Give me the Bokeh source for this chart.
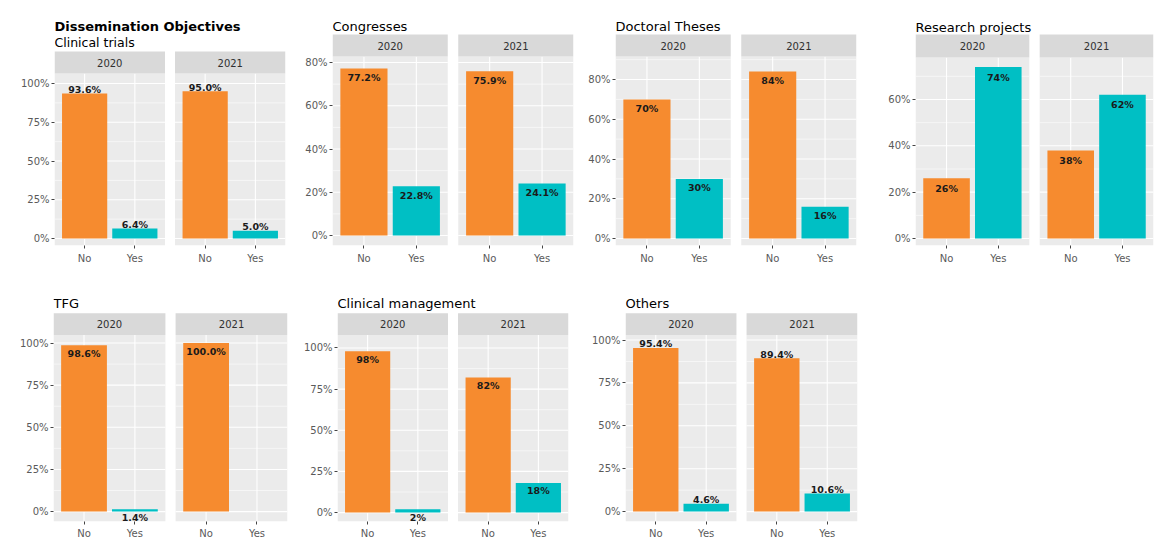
from bokeh.plotting import figure
from bokeh.layouts import row, column
from bokeh.models import FixedTicker, Range1d
from bokeh.core.properties import value
from bokeh.embed import file_html
from bokeh.resources import INLINE

# ---------------- data ----------------
main_title = "Dissemination Objectives"
years = ["2020", "2021"]
answers = ["No", "Yes"]
panel_titles = ["Clinical trials", "Congresses", "Doctoral Theses", "Research projects",
                "TFG", "Clinical management", "Others"]

# order of values in every panel: 2020-No, 2020-Yes, 2021-No, 2021-Yes
clinical_trials = [93.6, 6.4, 95.0, 5.0]
congresses = [77.2, 22.8, 75.9, 24.1]
doctoral_theses = [70, 30, 84, 16]
research_projects = [26, 74, 38, 62]
tfg = [98.6, 1.4, 100.0, 0.0]
clinical_management = [98, 2, 82, 18]
others = [95.4, 4.6, 89.4, 10.6]

clinical_trials_labels = ["93.6%", "6.4%", "95.0%", "5.0%"]
congresses_labels = ["77.2%", "22.8%", "75.9%", "24.1%"]
doctoral_theses_labels = ["70%", "30%", "84%", "16%"]
research_projects_labels = ["26%", "74%", "38%", "62%"]
tfg_labels = ["98.6%", "1.4%", "100.0%", ""]
clinical_management_labels = ["98%", "2%", "82%", "18%"]
others_labels = ["95.4%", "4.6%", "89.4%", "10.6%"]

ticks_100 = [0, 25, 50, 75, 100]
ticks_80 = [0, 20, 40, 60, 80]
ticks_60 = [0, 20, 40, 60]

# ---------------- style / layout ----------------
FONT = "DejaVu Sans"
ORANGE = "#F68B2F"
TEAL = "#00BFC4"
PANEL_BG = "#EBEBEB"
STRIP_BG = "#D9D9D9"
TICK_COLOR = "#5a5a5a"

ROW1 = (0, 10, 245, 270)    # fig top, frame top, frame bottom, fig bottom (page px)
ROW2 = (270, 283, 523, 541)

specs = [
    dict(fig_x=(0, 293), frame_x=(54, 285), rows=ROW1, zero=238, ppp=1.55, strip=(51, 73),
         titles=[(main_title, 26, "13px", "bold"), (panel_titles[0], 42, "12.5px", "normal")],
         vals=clinical_trials, labels=clinical_trials_labels, ticks=ticks_100, dy=-4),
    dict(fig_x=(293, 585), frame_x=(332, 573), rows=ROW1, zero=235, ppp=2.1625, strip=(34, 56),
         titles=[(panel_titles[1], 26, "13px", "normal")],
         vals=congresses, labels=congresses_labels, ticks=ticks_80, dy=9),
    dict(fig_x=(585, 875), frame_x=(615, 856), rows=ROW1, zero=238, ppp=1.9875, strip=(34, 56),
         titles=[(panel_titles[2], 26, "13px", "normal")],
         vals=doctoral_theses, labels=doctoral_theses_labels, ticks=ticks_80, dy=9),
    dict(fig_x=(875, 1158), frame_x=(915, 1153), rows=ROW1, zero=238, ppp=2.317, strip=(34, 57),
         titles=[(panel_titles[3], 27, "13px", "normal")],
         vals=research_projects, labels=research_projects_labels, ticks=ticks_60, dy=10),
    dict(fig_x=(0, 300), frame_x=(53, 287), rows=ROW2, zero=513, ppp=1.70, strip=(313, 335),
         titles=[(panel_titles[4], 303, "13px", "normal")],
         vals=tfg, labels=tfg_labels, ticks=ticks_100, dy=8),
    dict(fig_x=(300, 588), frame_x=(335, 568), rows=ROW2, zero=514, ppp=1.66, strip=(313, 335),
         titles=[(panel_titles[5], 303, "13px", "normal")],
         vals=clinical_management, labels=clinical_management_labels, ticks=ticks_100, dy=8),
    dict(fig_x=(588, 880), frame_x=(623, 857), rows=ROW2, zero=513, ppp=1.73, strip=(313, 335),
         titles=[(panel_titles[6], 303, "13px", "normal")],
         vals=others, labels=others_labels, ticks=ticks_100, dy=-4),
]

# x scale: each facet spans 22 units, bars at +6 and +16 inside it, gap of 2 units
X_START, X_END = 4, 50


def build(s):
    fig_l, fig_r = s["fig_x"]
    fr_l, fr_r = s["frame_x"]
    fig_t, fr_t, fr_b, fig_b = s["rows"]
    zero, ppp = s["zero"], s["ppp"]

    def yv(px):
        return (zero - px) / ppp

    y0, y1 = yv(fr_b), yv(fr_t)
    p = figure(width=fig_r - fig_l, height=fig_b - fig_t,
               x_range=Range1d(X_START, X_END), y_range=Range1d(y0, y1),
               output_backend="svg", toolbar_location=None,
               min_border_left=fr_l - fig_l, min_border_right=fig_r - fr_r,
               min_border_top=fr_t - fig_t, min_border_bottom=fig_b - fr_b)
    p.background_fill_color = "white"
    p.border_fill_color = "white"
    p.outline_line_color = None
    p.xgrid.visible = False
    p.ygrid.visible = False

    panel_top = yv(s["strip"][1])
    strip_top = yv(s["strip"][0])

    facet_left = [X_START + 24 * f for f in range(len(years))]
    facet_right = [X_START + 22 + 24 * f for f in range(len(years))]
    xs = [X_START + 6 + 10 * a + 24 * f for f in range(len(years)) for a in range(len(answers))]
    xlabels = [answers[a] for f in range(len(years)) for a in range(len(answers))]
    colors = [[ORANGE, TEAL][a] for f in range(len(years)) for a in range(len(answers))]

    # panel backgrounds
    p.quad(left=facet_left, right=facet_right, bottom=y0, top=panel_top,
           fill_color=PANEL_BG, line_color=None)

    # grid lines
    ticks = s["ticks"]
    step = ticks[1] - ticks[0]
    minor = [t + step / 2 for t in [ticks[0] - step] + ticks if y0 < t + step / 2 < panel_top]
    major = [t for t in ticks if y0 < t < panel_top]
    for vals_, w in ((minor, 0.55), (major, 1.1)):
        sx0, sx1, sy = [], [], []
        for fl, fr in zip(facet_left, facet_right):
            for v in vals_:
                sx0.append(fl); sx1.append(fr); sy.append(v)
        p.segment(x0=sx0, x1=sx1, y0=sy, y1=sy, line_color="white", line_width=w)
    p.segment(x0=xs, x1=xs, y0=[y0] * len(xs), y1=[panel_top] * len(xs),
              line_color="white", line_width=1.1)

    # strips
    p.quad(left=facet_left, right=facet_right, bottom=panel_top, top=strip_top,
           fill_color=STRIP_BG, line_color=None)
    p.text(x=[(a + b) / 2 for a, b in zip(facet_left, facet_right)],
           y=[(panel_top + strip_top) / 2] * len(years), text=years,
           text_align="center", text_baseline="middle",
           text_font=value(FONT), text_font_size=value("10px"), text_color="#303030")

    # bars
    p.vbar(x=xs, width=9, bottom=0, top=s["vals"], fill_color=colors, line_color=None)

    # value labels
    p.text(x=xs, y=s["vals"], text=s["labels"], text_align="center", text_baseline="middle",
           y_offset=s["dy"], text_font=value(FONT), text_font_size=value("9.5px"),
           text_font_style="bold", text_color="#1a1a1a")

    # titles
    for txt, base, size, style in s["titles"]:
        p.text(x=[X_START], y=[yv(base)], text=[txt], text_align="left",
               text_baseline="alphabetic", text_font=value(FONT),
               text_font_size=value(size), text_font_style=style, text_color="#000000")

    # axes
    p.xaxis.ticker = FixedTicker(ticks=xs)
    p.xaxis.major_label_overrides = {x: l for x, l in zip(xs, xlabels)}
    p.yaxis.ticker = FixedTicker(ticks=ticks)
    p.yaxis.major_label_overrides = {t: f"{t}%" for t in ticks}
    for ax in (p.xaxis, p.yaxis):
        ax.axis_line_color = None
        ax.major_tick_line_color = "#444444"
        ax.major_tick_in = 0
        ax.major_tick_out = 3
        ax.minor_tick_line_color = None
        ax.major_label_text_font = FONT
        ax.major_label_text_font_size = "10px"
        ax.major_label_text_color = TICK_COLOR
    p.yaxis.major_label_standoff = 2
    p.xaxis.major_label_standoff = 4 if s["rows"] is ROW1 else 3
    return p


figs = [build(s) for s in specs]
layout = column(row(*figs[:4]), row(*figs[4:]))

with open("out.html", "w") as f:
    f.write(file_html(layout, INLINE))
